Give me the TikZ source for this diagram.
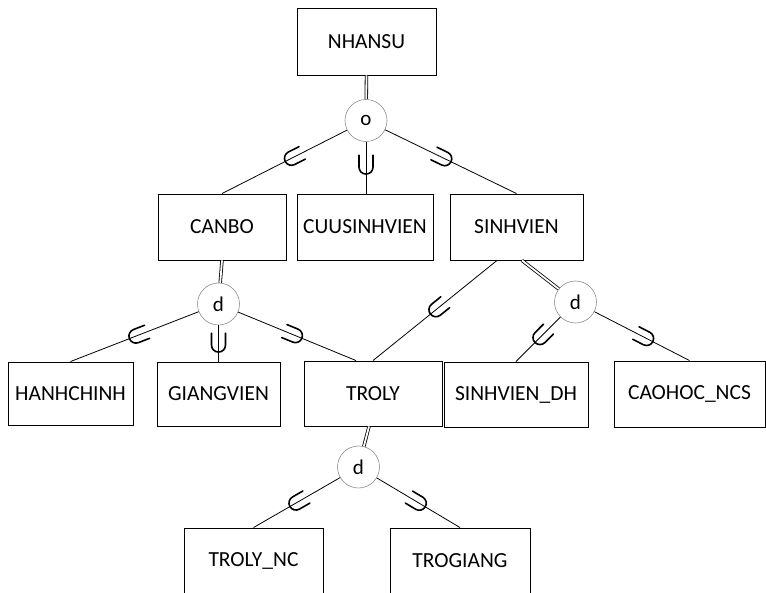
\documentclass[tikz,border=0pt]{standalone}
\usepackage{fontspec}
\setmainfont{Carlito}
\usetikzlibrary{decorations.markings}
\begin{document}
\begin{tikzpicture}[x=1pt,y=-1pt,
  ent/.style={draw=black,line width=0.9pt,rectangle,inner sep=0pt,
    font=\fontsize{21.5}{25}\selectfont,text=black},
  spec/.style={draw=black!45,line width=0.6pt,circle,minimum size=42pt,inner sep=0pt,
    font=\fontsize{21}{25}\selectfont},
  conn/.style={draw=black,line width=0.8pt},
  dbl/.style={draw=black,line width=0.8pt,double,double distance=1.8pt},
  subsetat/.style={postaction={decorate,decoration={markings,
    mark=at position #1 with {\draw[line width=1.6pt,line cap=round]
      (-10pt,7pt) -- (2pt,7pt) arc(90:-90:7pt) -- (-10pt,-7pt);}}}}
]
\useasboundingbox (0,0) rectangle (766,593);

\node[ent,minimum width=139pt,minimum height=67pt] (nhansu) at (366.5,41.5) {NHANSU};
\node[spec] (o) at (366,120.5) {o};

\node[ent,minimum width=128pt,minimum height=66pt] (canbo) at (222,227) {CANBO};
\node[ent,minimum width=136pt,minimum height=66pt] (cuu) at (365,227) {CUUSINHVIEN};
\node[ent,minimum width=133pt,minimum height=66pt] (sinhvien) at (516.5,227) {SINHVIEN};

\node[spec] (d1) at (218.5,304) {d};
\node[spec] (d2) at (575.5,302) {d};

\node[ent,minimum width=125pt,minimum height=63pt] (hanhchinh) at (70.5,393.5) {HANHCHINH};
\node[ent,minimum width=123pt,minimum height=64pt] (giangvien) at (218.5,394) {GIANGVIEN};
\node[ent,minimum width=138pt,minimum height=65pt] (troly) at (373,393.5) {TROLY};
\node[ent,minimum width=144pt,minimum height=65pt] (svdh) at (516,394.5) {SINHVIEN\_DH};
\node[ent,minimum width=151pt,minimum height=66pt] (caohoc) at (689.5,394) {CAOHOC\_NCS};

\node[spec] (d3) at (358.5,467) {d};

\node[ent,minimum width=139pt,minimum height=66pt] (trolync) at (253.5,561) {TROLY\_NC};
\node[ent,minimum width=140pt,minimum height=66pt] (trogiang) at (460,561) {TROGIANG};

% double lines (total participation)
\draw[dbl] (nhansu.south) -- (o);
\draw[dbl] (canbo.south) -- (d1);
\draw[dbl] ([xshift=5.5pt]sinhvien.south) -- (d2);
\draw[dbl] ([xshift=-4pt]troly.south) -- (d3);

% subclass connectors
\draw[conn,subsetat=0.43] (o) -- (canbo.north);
\draw[conn,subsetat=0.45] (o) -- ([xshift=1pt]cuu.north);
\draw[conn,subsetat=0.44] (o) -- (sinhvien.north);

\draw[conn,subsetat=0.475] (d1) -- (hanhchinh.north);
\draw[conn,subsetat=0.49] (d1) -- (giangvien.north);
\draw[conn,subsetat=0.47] (d1) -- ([xshift=-17pt]troly.north);
\draw[conn,subsetat=0.48] ([xshift=-19.5pt]sinhvien.south) -- (troly.north);

\draw[conn,subsetat=0.43] (d2) -- (svdh.north);
\draw[conn,subsetat=0.53] (d2) -- (caohoc.north);

\draw[conn,subsetat=0.49] (d3) -- (trolync.north);
\draw[conn,subsetat=0.49] (d3) -- (trogiang.north);
\end{tikzpicture}
\end{document}
